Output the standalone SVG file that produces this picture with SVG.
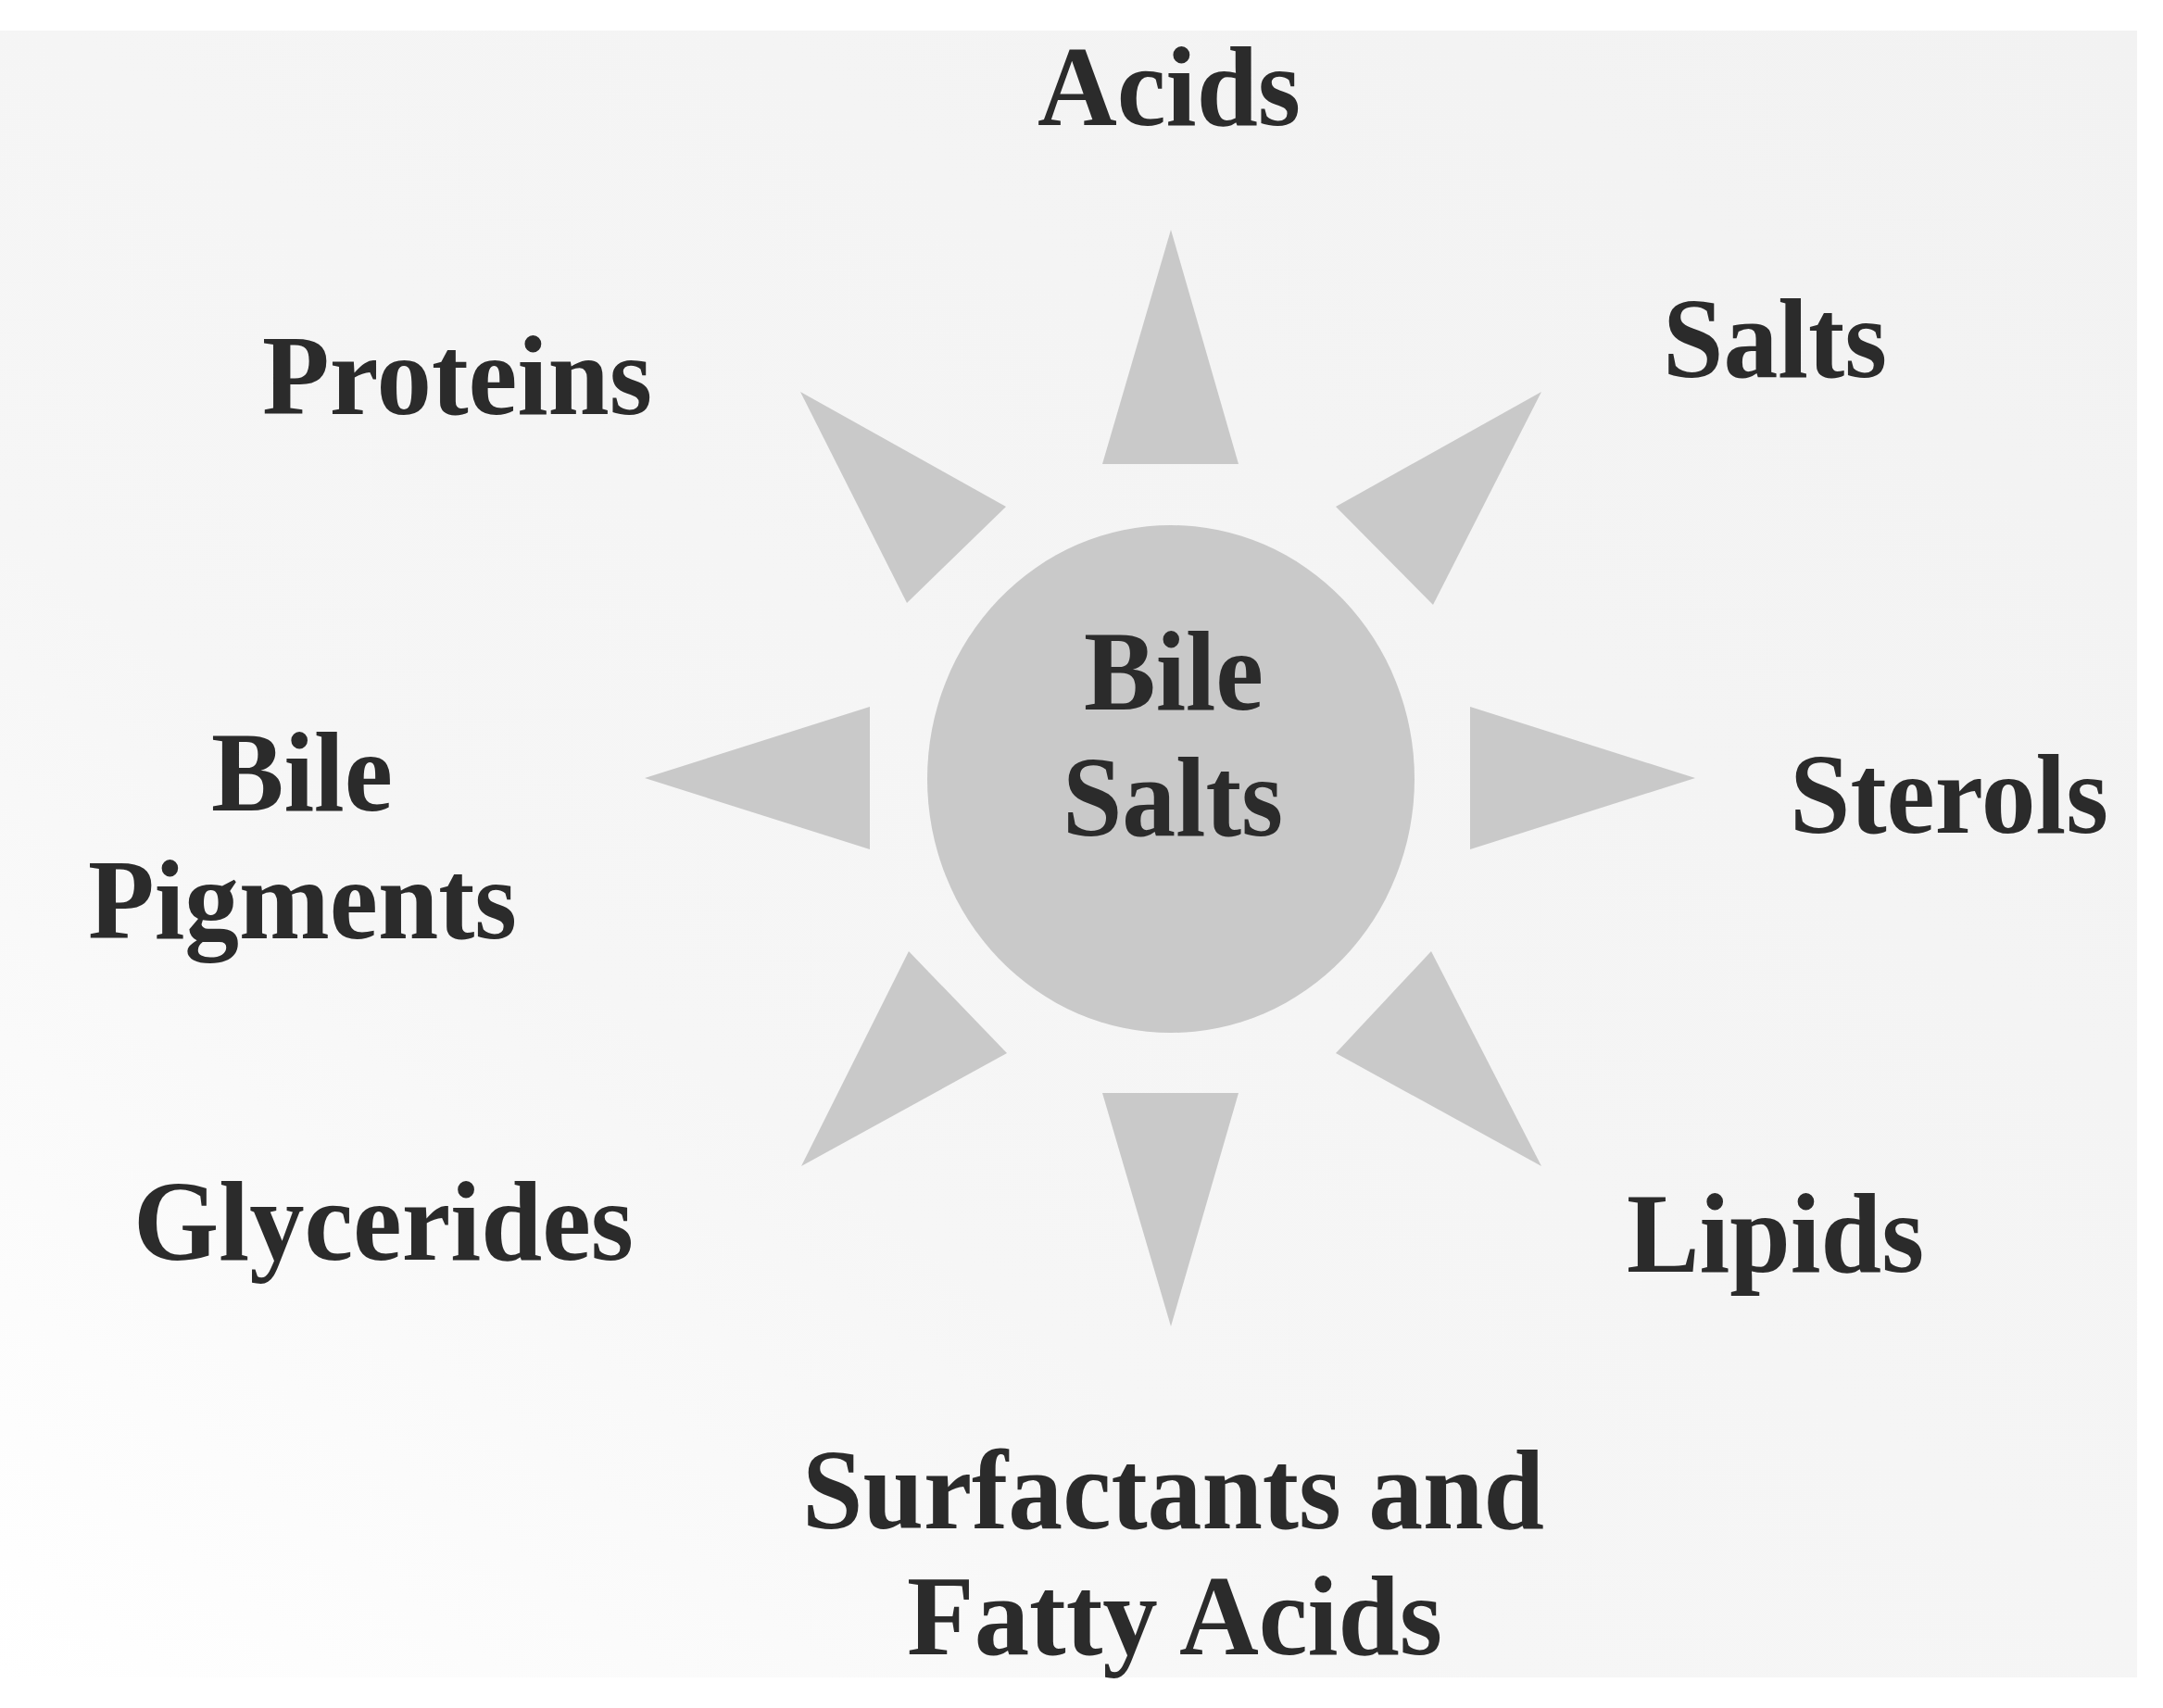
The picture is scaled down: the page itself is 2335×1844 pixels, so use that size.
<svg xmlns="http://www.w3.org/2000/svg" width="2335" height="1844" viewBox="0 0 2335 1844">
<defs>
<linearGradient id="paper" x1="0" y1="1" x2="1" y2="0">
<stop offset="0" stop-color="#ffffff"/>
<stop offset="0.35" stop-color="#f6f6f6"/>
<stop offset="1" stop-color="#f2f2f2"/>
</linearGradient>
<style>
.ray{fill:#c9c9c9}
.hub{fill:#c9c9c9}
.lbl{font-family:"Liberation Serif","Times New Roman",serif;font-weight:bold;font-size:122px;fill:#2b2b2b}
</style>
</defs>
<rect x="0" y="0" width="2335" height="1844" fill="#ffffff"/>
<rect x="0" y="33" width="2307" height="1778" fill="url(#paper)"/>
<g id="connectors">
<polygon class="ray" points="1264,248 1337,501 1190,501"/>
<polygon class="ray" points="1264,1432 1337,1180 1190,1180"/>
<polygon class="ray" points="696,840 939,763 939,917"/>
<polygon class="ray" points="1830,840 1587,763 1587,917"/>
<polygon class="ray" points="864,423 1086,547 979,651"/>
<polygon class="ray" points="1664,423 1442,547 1547,653"/>
<polygon class="ray" points="865,1259 981,1027 1087,1137"/>
<polygon class="ray" points="1664,1259 1545,1027 1442,1137"/>
</g>
<g id="node-bile-salts">
<ellipse class="hub" cx="1264" cy="841" rx="263" ry="274"/>
<text class="lbl" x="1170" y="766" textLength="194" lengthAdjust="spacingAndGlyphs">Bile</text>
<text class="lbl" x="1147" y="902" textLength="238" lengthAdjust="spacingAndGlyphs">Salts</text>
</g>
<g id="node-acids"><text class="lbl" x="1120" y="135" textLength="284" lengthAdjust="spacingAndGlyphs">Acids</text></g>
<g id="node-salts"><text class="lbl" x="1795" y="407" textLength="242" lengthAdjust="spacingAndGlyphs">Salts</text></g>
<g id="node-proteins"><text class="lbl" x="283" y="447" textLength="421" lengthAdjust="spacingAndGlyphs">Proteins</text></g>
<g id="node-bile-pigments">
<text class="lbl" x="228" y="875" textLength="196" lengthAdjust="spacingAndGlyphs">Bile</text>
<text class="lbl" x="95" y="1013" textLength="463" lengthAdjust="spacingAndGlyphs">Pigments</text>
</g>
<g id="node-sterols"><text class="lbl" x="1932" y="899" textLength="344" lengthAdjust="spacingAndGlyphs">Sterols</text></g>
<g id="node-glycerides"><text class="lbl" x="144" y="1360" textLength="540" lengthAdjust="spacingAndGlyphs">Glycerides</text></g>
<g id="node-lipids"><text class="lbl" x="1756" y="1373" textLength="321" lengthAdjust="spacingAndGlyphs">Lipids</text></g>
<g id="node-surfactants">
<text class="lbl" x="866" y="1650" textLength="801" lengthAdjust="spacingAndGlyphs">Surfactants and</text>
<text class="lbl" x="979" y="1786" textLength="578" lengthAdjust="spacingAndGlyphs">Fatty Acids</text>
</g>
</svg>
